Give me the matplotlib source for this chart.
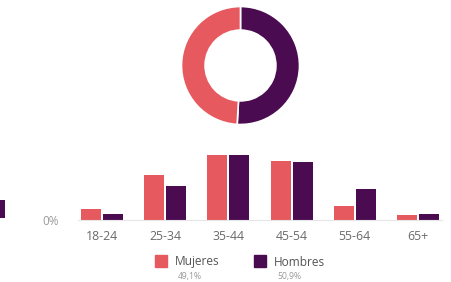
import numpy as np
import matplotlib
matplotlib.use("Agg")
import matplotlib.pyplot as plt
from matplotlib.patches import Rectangle

plt.rcParams['font.family'] = ['Open Sans', 'DejaVu Sans']

# data
groups = ['18-24', '25-34', '35-44', '45-54', '55-64', '65+']
mujeres = [5.5, 22.6, 32.5, 29.6, 7.1, 2.7]
hombres = [3.0, 17.0, 32.6, 28.9, 15.5, 3.0]
labels = ['Mujeres', 'Hombres']
shares = [49.1, 50.9]
edge_bar = [9.0]        # bar of the chart cut off at the left edge

c_muj = '#E65A5F'
c_hom = '#4A0B50'
txt = '#6a6a6a'

W, H = 451, 282
fig = plt.figure(figsize=(W / 100, H / 100), dpi=100)

# donut
ax_d = fig.add_axes([(240.5 - 59) / W, (216.5 - 59) / H, 118 / W, 118 / H])
ax_d.pie([shares[1], shares[0]], colors=[c_hom, c_muj], startangle=90,
         counterclock=False, radius=1.0,
         wedgeprops=dict(width=0.4, edgecolor='white', linewidth=1.2))
ax_d.set_xlim(-1, 1)
ax_d.set_ylim(-1, 1)
ax_d.set_aspect('equal')
ax_d.axis('off')

# grouped bars
ax = fig.add_axes([78 / W, 62 / H, 364 / W, 80 / H])
x = np.arange(len(groups))
w = 0.316
ax.bar(x - 0.175, mujeres, w, color=c_muj)
ax.bar(x + 0.175, hombres, w, color=c_hom)
ax.set_xlim(-0.38, 5.38)
ax.set_ylim(0, 40)
ax.set_xticks(x)
ax.set_xticklabels(groups, fontsize=8.8, color=txt)
ax.set_yticks([0])
ax.set_yticklabels(['0%'], fontsize=8.5, color='#999999')
ax.tick_params(axis='x', length=0, pad=7)
ax.tick_params(axis='y', length=0, pad=14)
for s in ['top', 'right', 'left']:
    ax.spines[s].set_visible(False)
ax.spines['bottom'].set_color('#e6e6e6')
ax.spines['bottom'].set_linewidth(0.8)

# partial bar at the left edge
ax_e = fig.add_axes([-20 / W, 64 / H, 25 / W, 80 / H])
ax_e.bar([0], edge_bar, 1.0, color=c_hom)
ax_e.set_xlim(-0.5, 0.5)
ax_e.set_ylim(0, 40)
ax_e.axis('off')

# legend
leg_x = [155, 254]
for i in range(2):
    col = c_muj if i == 0 else c_hom
    fig.patches.append(Rectangle((leg_x[i] / W, (H - 267) / H), 12 / W, 12 / H,
                                 transform=fig.transFigure, color=col))
    fig.text((leg_x[i] + 20) / W, (H - 262) / H, labels[i], fontsize=8.6,
             color='#555555', va='center', ha='left')
    fig.text((leg_x[i] + 23) / W, (H - 276) / H,
             ('%.1f%%' % shares[i]).replace('.', ','), fontsize=6.2,
             color='#999999', va='center', ha='left')

fig.savefig('out.png', dpi=100)
